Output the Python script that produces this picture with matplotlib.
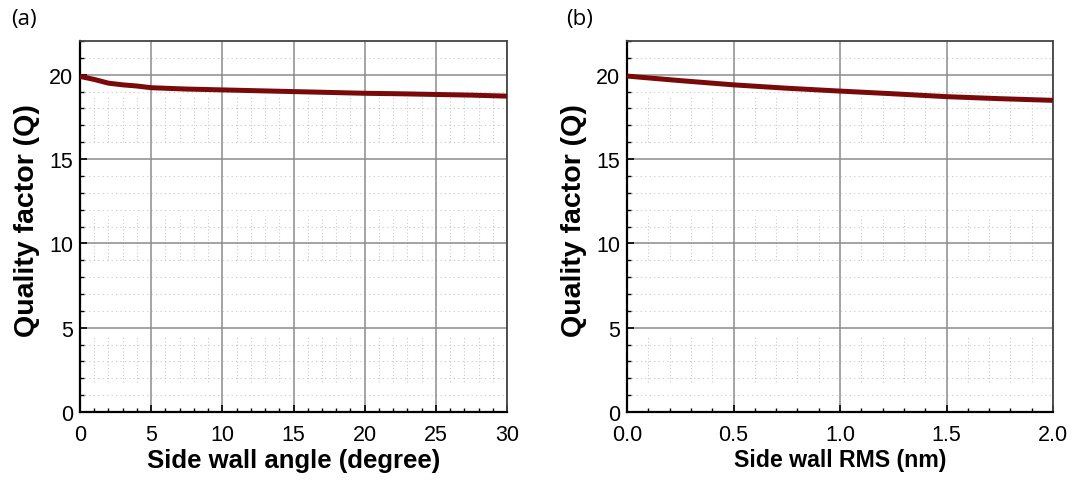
import numpy as np
import matplotlib.pyplot as plt
from matplotlib.ticker import MultipleLocator

plt.rcParams['font.family'] = ['Liberation Sans', 'DejaVu Sans']

# (a) quality factor vs side wall angle
angle = [0, 1, 2, 3, 4, 5, 7.5, 10, 12.5, 15, 17.5, 20, 22.5, 25, 27.5, 30]
q_angle = [19.9, 19.72, 19.5, 19.4, 19.33, 19.23, 19.15, 19.1, 19.05, 19.0,
           18.95, 18.9, 18.87, 18.83, 18.79, 18.73]

# (b) quality factor vs side wall RMS
rms = [0.0, 0.25, 0.5, 0.75, 1.0, 1.25, 1.5, 1.75, 2.0]
q_rms = [19.92, 19.65, 19.4, 19.2, 19.03, 18.87, 18.7, 18.58, 18.48]

line_color = '#7a0a0a'
grid_color = '#8c8c8c'
minor_color = '#c8c8c8'

# bands where the dotted vertical minor grid shows up
minor_bands = [(16.0, 18.7), (9.0, 11.6), (1.8, 4.5)]

fig = plt.figure(figsize=(10.83, 4.81), dpi=100)
ax_a = fig.add_axes([80 / 1083, 1 - 413 / 481, 427 / 1083, 371 / 481])
ax_b = fig.add_axes([627 / 1083, 1 - 413 / 481, 426 / 1083, 371 / 481])


def style_axis(ax, xmax, xmajor, xminor, xlabel, xlabel_size, fmt):
    ax.set_xlim(0, xmax)
    ax.set_ylim(0, 22)
    ax.xaxis.set_major_locator(MultipleLocator(xmajor))
    ax.xaxis.set_minor_locator(MultipleLocator(xminor))
    ax.yaxis.set_major_locator(MultipleLocator(5))
    ax.yaxis.set_minor_locator(MultipleLocator(1))
    ax.xaxis.set_major_formatter(fmt)
    ax.tick_params(which='both', direction='in', labelsize=15.5, color='black')
    ax.tick_params(which='major', length=5, width=1.2)
    ax.tick_params(which='minor', length=3, width=1)
    ax.tick_params(axis='x', pad=9)
    ax.tick_params(axis='y', pad=5)

    # solid major grid
    ax.grid(which='major', color=grid_color, linewidth=1.1, linestyle='-')
    # dotted horizontal minor grid
    ymin_ticks = [v for v in range(1, 22) if v % 5 != 0]
    ax.hlines(ymin_ticks, 0, xmax, colors=minor_color, linewidth=0.8,
              linestyles=(0, (1, 3)), zorder=0.5)
    # dotted vertical minor grid, only within bands
    xs = np.arange(xminor, xmax, xminor)
    xs = [x for x in xs if abs(x / xmajor - round(x / xmajor)) > 1e-6]
    for lo, hi in minor_bands:
        ax.vlines(xs, lo, hi, colors=minor_color, linewidth=0.8,
                  linestyles=(0, (1, 2)), zorder=0.5)
    ax.set_axisbelow(True)

    for side in ['left', 'bottom']:
        ax.spines[side].set_linewidth(1.6)
        ax.spines[side].set_color('black')
    for side in ['top', 'right']:
        ax.spines[side].set_linewidth(1.3)
        ax.spines[side].set_color('#444444')

    ax.set_ylabel('Quality factor (Q)', fontsize=20.5, fontweight='bold')
    ax.yaxis.set_label_coords(-0.094, 0.52)
    ax.set_xlabel(xlabel, fontsize=xlabel_size, fontweight='bold', labelpad=2)


style_axis(ax_a, 30, 5, 1, 'Side wall angle (degree)', 18.5,
           plt.FuncFormatter(lambda v, p: f'{v:.0f}'))
style_axis(ax_b, 2.0, 0.5, 0.1, 'Side wall RMS (nm)', 16.7,
           plt.FuncFormatter(lambda v, p: f'{v:.1f}'))

ax_a.plot(angle, q_angle, color=line_color, linewidth=3.6,
          solid_capstyle='butt', clip_on=False, zorder=3)
ax_b.plot(rms, q_rms, color=line_color, linewidth=3.6,
          solid_capstyle='butt', clip_on=False, zorder=3)

fig.text(11 / 1083, 1 - 20 / 481, '(a)', fontsize=16, family=['Open Sans', 'DejaVu Sans'],
         va='center', ha='left')
fig.text(566 / 1083, 1 - 20 / 481, '(b)', fontsize=16, family=['Open Sans', 'DejaVu Sans'],
         va='center', ha='left')

fig.savefig('out.png', dpi=100)
